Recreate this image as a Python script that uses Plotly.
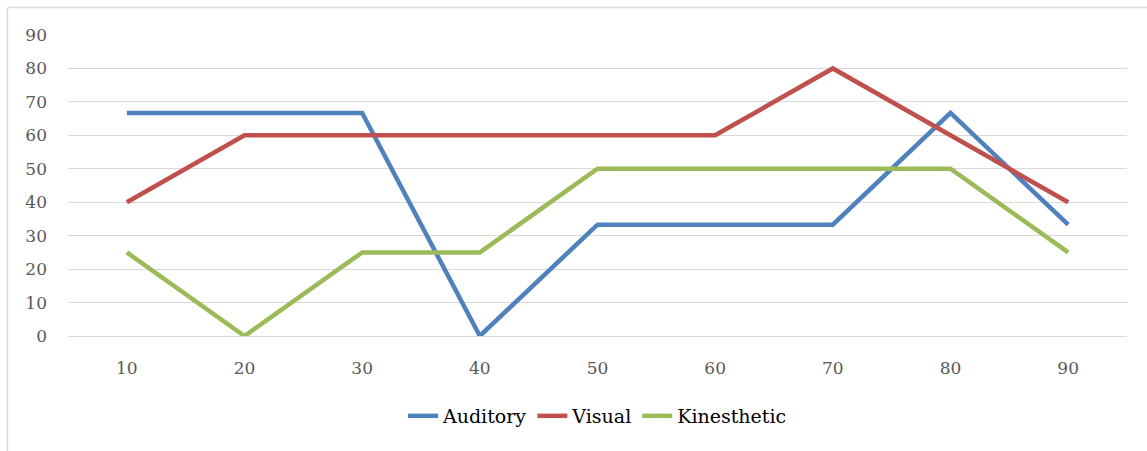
import plotly.graph_objects as go

# Categories along the x axis
categories = ["10", "20", "30", "40", "50", "60", "70", "80", "90"]

# Percentages for each learning style
auditory = [66.7, 66.7, 66.7, 0, 33.3, 33.3, 33.3, 66.7, 33.3]
visual = [40, 60, 60, 60, 60, 60, 80, 60, 40]
kinesthetic = [25, 0, 25, 25, 50, 50, 50, 50, 25]

y_ticks = [0, 10, 20, 30, 40, 50, 60, 70, 80, 90]

FONT = "DejaVu Serif"

series = [
    ("Auditory", auditory, "#4F81BD"),
    ("Visual", visual, "#C0504D"),
    ("Kinesthetic", kinesthetic, "#9BBB59"),
]

fig = go.Figure()
for name, values, color in series:
    fig.add_trace(go.Scatter(
        x=categories, y=values, name=name, mode="lines",
        line=dict(color=color, width=4.5),
    ))

W, H = 1147, 451
L, R, T, B = 68, 20, 35, 115
pw, ph = W - L - R, H - T - B

def px_x(p):
    return (p - L) / pw

def px_y(p):
    return 1 - (p - T) / ph

fig.update_layout(
    width=W, height=H,
    margin=dict(l=L, r=R, t=T, b=B),
    paper_bgcolor="white", plot_bgcolor="white",
    font=dict(family=FONT, size=17, color="#595959"),
    showlegend=True,
    legend=dict(
        orientation="h", x=0.5, xanchor="center", y=px_y(416), yanchor="middle",
        font=dict(family=FONT, size=19, color="#000000"),
        traceorder="normal",
    ),
    xaxis=dict(
        type="category", range=[-0.5, 8.5], showgrid=False, zeroline=False,
        showline=False, ticks="", tickfont=dict(family=FONT, size=17, color="#595959"),
        ticklabelstandoff=20,
    ),
    yaxis=dict(
        range=[0, 90], tickvals=y_ticks, showgrid=True, gridcolor="#D9D9D9",
        gridwidth=1, zeroline=True, zerolinecolor="#D9D9D9", zerolinewidth=1,
        showline=False, ticks="", tickfont=dict(family=FONT, size=17, color="#595959"),
        ticklabelstandoff=20,
    ),
    shapes=[
        dict(type="line", xref="paper", yref="paper",
             x0=px_x(7.5), x1=px_x(1150), y0=px_y(7.5), y1=px_y(7.5),
             line=dict(color="#D9D9D9", width=1.5)),
        dict(type="line", xref="paper", yref="paper",
             x0=px_x(7.5), x1=px_x(7.5), y0=px_y(7.5), y1=px_y(455),
             line=dict(color="#D9D9D9", width=1.5)),
    ],
)

fig.write_html("out.html")
